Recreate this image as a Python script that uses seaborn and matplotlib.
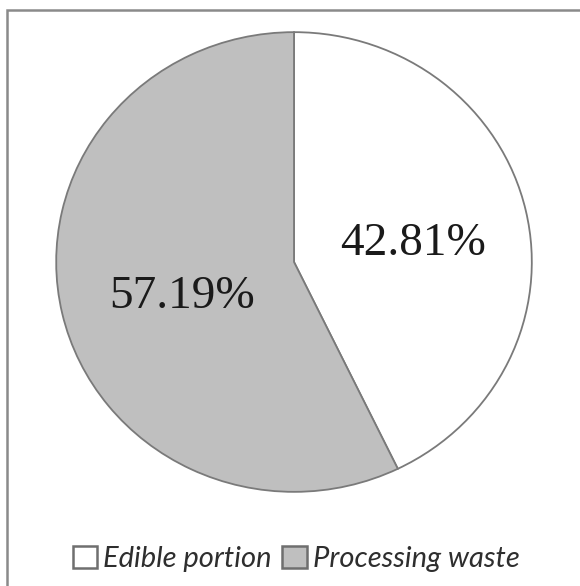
import matplotlib
matplotlib.use("Agg")
import matplotlib.pyplot as plt
import seaborn as sns
from matplotlib.patches import Rectangle

# data
labels = ["Edible portion", "Processing waste"]
shares = [42.81, 57.19]
slice_colors = ["#ffffff", "#bfbfbf"]

sns.set_style("white")

W, H = 580, 586
fig = plt.figure(figsize=(W / 100, H / 100), dpi=100)

# pie box (pixel edges)
left, right, top, bottom = 55, 533, 31, 493
ax = fig.add_axes([left / W, 1 - bottom / H, (right - left) / W, (bottom - top) / H])

wedges, texts, autotexts = ax.pie(
    shares,
    colors=slice_colors,
    startangle=90,
    counterclock=False,
    autopct=lambda p: f"{p:.2f}%",
    pctdistance=0.52,
    wedgeprops=dict(edgecolor="#7a7a7a", linewidth=1.3),
    textprops=dict(family="Liberation Serif", fontsize=34, color="#1a1a1a"),
)
ax.set_aspect("auto")
ax.set_xlim(-1.005, 1.005)
ax.set_ylim(-1.005, 1.005)
ax.axis("off")

# nudge the labels to where they sit in the original
autotexts[0].set_position((0.5, 0.08))
autotexts[1].set_position((-0.47, -0.15))

leg = fig.legend(
    wedges,
    labels,
    loc="center",
    bbox_to_anchor=(296 / W, 1 - 559 / H),
    ncol=2,
    frameon=False,
    handlelength=0.85,
    handleheight=0.75,
    handletextpad=0.2,
    columnspacing=0.35,
    prop=dict(family="Lato", style="italic", size=21),
)
for t in leg.get_texts():
    t.set_color("#2e2e2e")
for h in leg.legend_handles:
    h.set_edgecolor("#6f6f6f")
    h.set_linewidth(1.8)

# outer frame, only left and top edges are inside the picture
fig.patches.append(Rectangle((7 / W, -0.1), 1.2, 1 - 10 / H + 0.1,
                             transform=fig.transFigure, fill=False,
                             edgecolor="#8a8a8a", linewidth=1.8))

fig.savefig("out.png", dpi=100)
